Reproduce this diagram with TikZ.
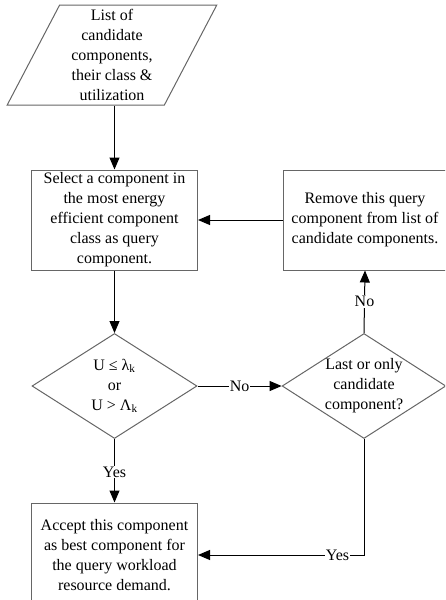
\documentclass[tikz,border=0pt]{standalone}
\usepackage{fontspec}
\setmainfont{Liberation Serif}
\usetikzlibrary{shapes.geometric,arrows.meta}

\begin{document}
\begin{tikzpicture}[x=1pt, y=-1pt, line width=1pt,
  font=\fontsize{16}{20}\selectfont,
  block/.style={draw=black!60, shape=rectangle, minimum width=166pt, minimum height=100pt, align=center, inner sep=0pt},
  decision/.style={draw=black!60, shape=diamond, aspect=1.57, minimum width=165pt, minimum height=105pt, align=center, inner sep=0pt},
  io/.style={draw=black!60, shape=trapezium, trapezium left angle=66, trapezium right angle=114, trapezium stretches=true, minimum width=210pt, minimum height=100pt, align=center, inner sep=0pt},
  flow/.style={-{Triangle[length=12pt,width=10pt]}, black},
  lbl/.style={fill=white, inner sep=1pt}]

\clip (0,0) rectangle (445,600);

\path (112, 55) node[io] (list) {List of\\candidate\\components,\\their class \&\\utilization};

\path (114.5, 220) node[block] (select) {Select a component in\\the most energy\\efficient component\\class as query\\component.};
\path (365, 220) node[block, minimum width=164pt] (remove) {Remove this query\\component from list of\\candidate components.};

\path (114.5, 386) node[decision] (test) {U ≤ λ\textsubscript{k}\\or\\U > Λ\textsubscript{k}};
\path (364, 386) node[decision, minimum width=162pt] (last) {Last or only\\candidate\\component?};

\path (114.5, 555) node[block, minimum height=104pt] (accept) {Accept this component\\as best component for\\the query workload\\resource demand.};

\draw[flow] (list.south -| select.north) -- (select.north);
\draw[flow] (select) -- (test);
\draw[flow] (test.east) -- node[lbl] {No} (last.west);
\draw[flow] (last.north) -- node[lbl] {No} (remove.south);
\draw[flow] (remove.west) -- (select.east);
\draw[flow] (test.south) -- node[lbl, pos=0.52] {Yes} (accept.north);
\draw[flow] (last.south) |- node[lbl, pos=0.58] {Yes} (accept.east);
\end{tikzpicture}
\end{document}
